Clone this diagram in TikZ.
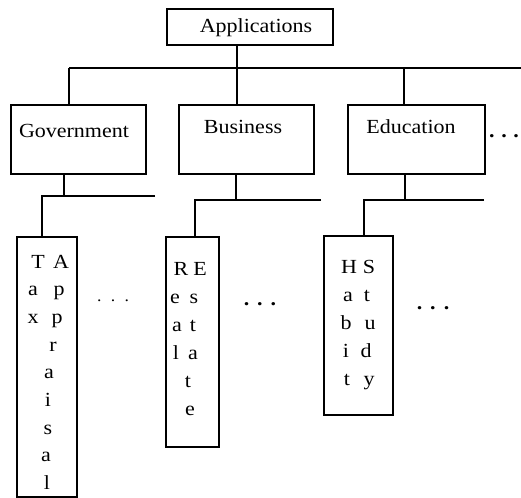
\documentclass[tikz,border=0pt]{standalone}
\usepackage{fontspec}
\setmainfont{Liberation Serif}[FakeStretch=1.1]
\begin{document}
\begin{tikzpicture}[x=0.75pt,y=-0.75pt,
  box/.style={draw,line width=1.1pt,inner sep=0pt},
  conn/.style={line width=1.1pt},
  lbl/.style={font=\fontsize{15}{18}\selectfont,inner sep=0pt,anchor=base},
  ltr/.style={font=\fontsize{15}{18}\selectfont,inner sep=0pt,anchor=base},
  dotsl/.style={font=\fontsize{15}{18}\selectfont\bfseries,inner sep=0pt,anchor=base}]
\useasboundingbox (0,0) rectangle (521,497);
% boxes
\node[box,minimum width=166*0.75pt,minimum height=36*0.75pt] (app) at (250,27) {};
\node[box,minimum width=135*0.75pt,minimum height=69*0.75pt] (gov) at (78.5,139.5) {};
\node[box,minimum width=135*0.75pt,minimum height=69*0.75pt] (bus) at (246.5,139.5) {};
\node[box,minimum width=137*0.75pt,minimum height=69*0.75pt] (edu) at (416.5,139.5) {};
\node[box,minimum width=60*0.75pt,minimum height=260*0.75pt] (tax) at (47,367) {};
\node[box,minimum width=53*0.75pt,minimum height=210*0.75pt] (re) at (192.5,342) {};
\node[box,minimum width=69*0.75pt,minimum height=179*0.75pt] (hs) at (358.5,325.5) {};
% labels
\node[lbl] (tapp) at (256,32) {Applications};
\node[lbl] (tgov) at (74,137) {Government};
\node[lbl] (tbus) at (243,133) {Business};
\node[lbl] (tedu) at (411,133) {Education};
% main bus
\coordinate (hl) at (69,68);
\coordinate (hm) at (237,68);
\coordinate (he) at (404,68);
\coordinate (hr) at (521,68);
\draw[conn] (hl) -- (hr);
\draw[conn] (app.south -| hm) -- (hm);
\draw[conn] (hl) -- (hl |- gov.north);
\draw[conn] (hm) -- (hm |- bus.north);
\draw[conn] (he) -- (he |- edu.north);
% government branch
\coordinate (g1) at (64,196);
\coordinate (gl) at (42,196);
\coordinate (gr) at (155,196);
\draw[conn] (g1 |- gov.south) -- (g1);
\draw[conn] (gr) -- (gl) -- (gl |- tax.north);
% business branch
\coordinate (b1) at (236,200);
\coordinate (bl) at (195,200);
\coordinate (br) at (321,200);
\draw[conn] (b1 |- bus.south) -- (b1);
\draw[conn] (br) -- (bl) -- (bl |- re.north);
% education branch
\coordinate (e1) at (405,200);
\coordinate (el) at (364,200);
\coordinate (er) at (484,200);
\draw[conn] (e1 |- edu.south) -- (e1);
\draw[conn] (er) -- (el) -- (el |- hs.north);
% vertical letters: Tax / Appraisal
\foreach \c/\x [count=\i from 0] in {T/38,a/33,x/33}
  \node[ltr] (ta\i) at (\x,268+27.7*\i) {\c};
\foreach \c/\x [count=\i from 0] in {A/61,p/59,p/57,r/53,a/49,i/48,s/48,a/46,l/47}
  \node[ltr] (tb\i) at (\x,268+27.7*\i) {\c};
% Real Estate
\foreach \c/\x [count=\i from 0] in {R/181,e/175,a/177,l/176}
  \node[ltr] (ra\i) at (\x,275+28*\i) {\c};
\foreach \c/\x [count=\i from 0] in {E/200,s/194,t/193,a/193,t/188,e/190}
  \node[ltr] (rb\i) at (\x,275+28*\i) {\c};
% Habit / Study
\foreach \c/\x [count=\i from 0] in {H/349,a/348,b/346,i/346,t/347}
  \node[ltr] (ha\i) at (\x,273+28*\i) {\c};
\foreach \c/\x [count=\i from 0] in {S/369,t/367,u/370,d/366,y/369}
  \node[ltr] (hb\i) at (\x,273+28*\i) {\c};
% dots
\node[dotsl,font=\fontsize{12}{14}\selectfont] (d1) at (113,301) {.\hspace{7pt}.\hspace{7pt}.};
\node[dotsl] (d2) at (260,305) {.\hspace{6pt}.\hspace{6pt}.};
\node[dotsl] (d3) at (433,309) {.\hspace{6pt}.\hspace{6pt}.};
\node[dotsl] (d4) at (504,137) {.\hspace{5pt}.\hspace{5pt}.};
\end{tikzpicture}
\end{document}
